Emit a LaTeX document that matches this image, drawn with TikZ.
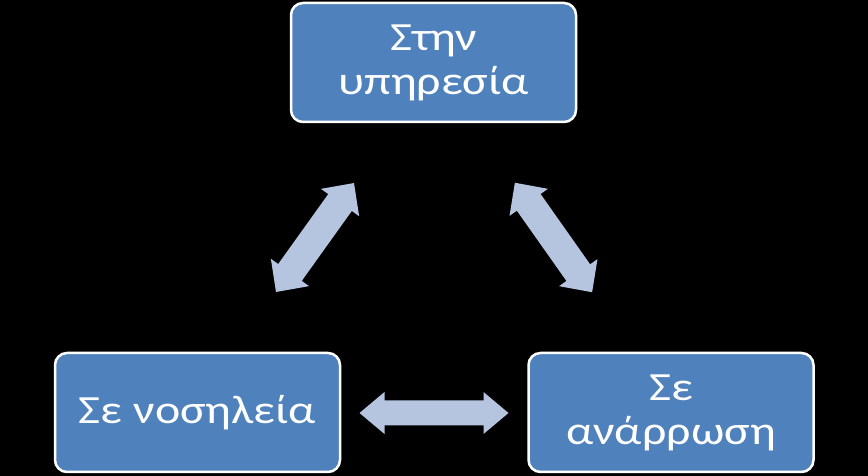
\documentclass[tikz,border=0pt]{standalone}
\usepackage{fontspec}
\setmainfont{Carlito}
\newfontfamily\boxfont[FakeStretch=1.2]{Carlito}
\definecolor{boxblue}{HTML}{4F81BD}
\definecolor{arrowblue}{HTML}{B5C4DF}
\tikzset{
  box/.style={draw=white, line width=2.5pt, fill=boxblue, rounded corners=12pt,
    minimum width=285pt, minimum height=119pt, text=white, align=center, inner sep=0pt,
    font=\boxfont\fontsize{40}{44}\selectfont},
}
% double arrow: #1 center, #2 angle, #3 half length, #4 shaft half width, #5 head half width, #6 head length
\newcommand{\dblarrow}[6]{%
  \fill[arrowblue, shift={#1}, rotate=#2]
    (-#3,0) -- (-#3+#6,#5) -- (-#3+#6,#4) -- (#3-#6,#4) -- (#3-#6,#5) -- (#3,0)
    -- (#3-#6,-#5) -- (#3-#6,-#4) -- (-#3+#6,-#4) -- (-#3+#6,-#5) -- cycle;}
\begin{document}
\begin{tikzpicture}[x=1pt,y=1pt]
\fill[black] (0,0) rectangle (868,476);
\useasboundingbox (0,0) rectangle (868,476);
\node[box] (top) at (433.5,413.5) {Στην\\υπηρεσία};
\node[box] (left) at (197.5,63.5) {Σε νοσηλεία};
\node[box] (right) at (671,63.5) {Σε\\ανάρρωση};
\dblarrow{(434,63)}{0}{74.5}{12.5}{21}{25}
\dblarrow{(315,238.5)}{54.4}{67}{14.5}{23.5}{24}
\dblarrow{(553.5,238.5)}{-54.8}{67}{14.5}{23.5}{24}
\end{tikzpicture}
\end{document}
